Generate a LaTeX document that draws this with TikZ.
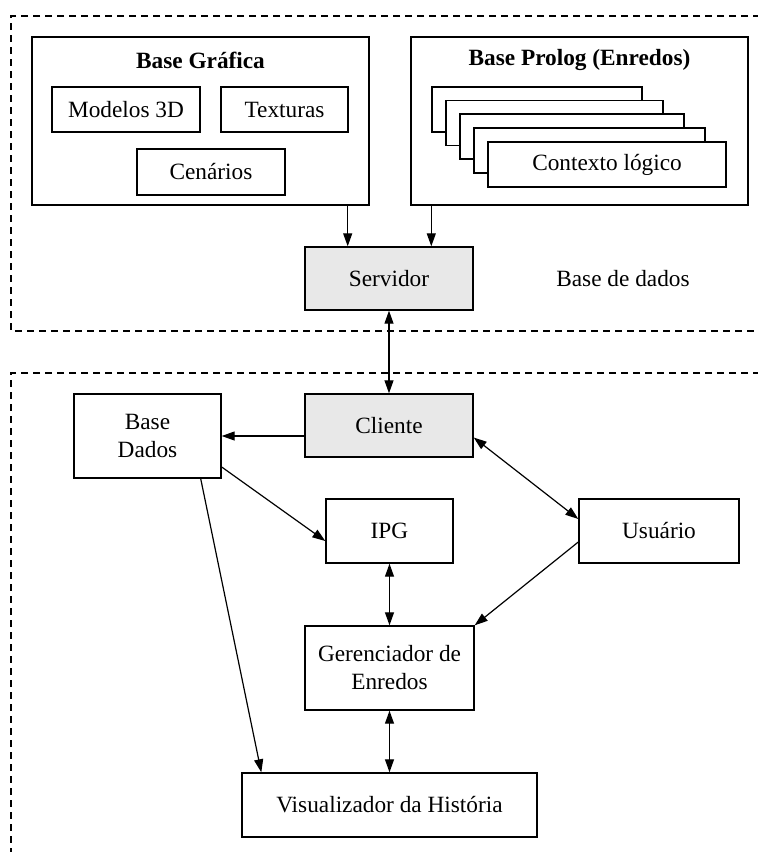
\documentclass[tikz,border=0pt]{standalone}
\usepackage{fontspec}
\setmainfont{Liberation Serif}
\usetikzlibrary{arrows.meta}

\definecolor{boxgray}{HTML}{E8E8E8}

\tikzset{
  box/.style={draw, line width=1.4pt, fill=white, inner sep=0pt, align=center,
    font=\fontsize{23.3}{28}\selectfont},
  graybox/.style={box, fill=boxgray},
  sheet/.style={draw, line width=1.4pt, fill=white},
  region/.style={draw, line width=1.3pt, dash pattern=on 7pt off 5pt},
  tip/.style={},
  conn/.style={line width=1.2pt, -{Triangle[length=13pt,width=9pt]}},
  both/.style={line width=1.2pt, {Triangle[length=13pt,width=9pt]}-{Triangle[length=13pt,width=9pt]}},
  title/.style={font=\fontsize{23.3}{28}\selectfont\bfseries, inner sep=0pt},
  plain/.style={font=\fontsize{23.3}{28}\selectfont, inner sep=0pt}
}

\begin{document}
\begin{tikzpicture}[x=1pt, y=-1pt]
  \useasboundingbox (0,0) rectangle (758,852);

  % dashed regions: database side and client side
  \draw[region] (760,16) -- (11,16) -- (11,331) -- (760,331);
  \draw[region] (760,373) -- (11,373) -- (11,854);

  % graphics base
  \node[box, minimum width=337pt, minimum height=168pt] (bgraf) at (200.5,121) {};
  \node[title] (bgraft) at (200.5,60) {Base Gráfica};
  \node[box, minimum width=148pt, minimum height=45pt] (mod) at (126,109.5) {Modelos 3D};
  \node[box, minimum width=127pt, minimum height=45pt] (tex) at (284.5,109.5) {Texturas};
  \node[box, minimum width=148pt, minimum height=46pt] (cen) at (211,172) {Cenários};

  % prolog base with stacked logical contexts
  \node[box, minimum width=337pt, minimum height=168pt] (bprol) at (579.5,121) {};
  \node[title] (bprolt) at (579.5,60) {Base Prolog (Enredos)};
  \draw[sheet] (432,87) rectangle (642,132);
  \draw[sheet] (446,100.5) rectangle (663,145.5);
  \draw[sheet] (460,114) rectangle (684,159);
  \draw[sheet] (474,128) rectangle (705,173);
  \node[box, minimum width=238pt, minimum height=45pt] (ctx) at (607,164.5) {Contexto lógico};

  % server
  \node[graybox, minimum width=168pt, minimum height=63pt] (serv) at (389,278.5) {Servidor};
  \node[plain] (bdtxt) at (623,278.5) {Base de dados};

  % client side
  \node[graybox, minimum width=168pt, minimum height=63pt] (cli) at (389,425.5) {Cliente};
  \node[box, minimum width=147pt, minimum height=84pt] (bdad) at (147.5,436) {Base\\Dados};
  \node[box, minimum width=127pt, minimum height=64pt] (ipg) at (389.5,531) {IPG};
  \node[box, minimum width=160pt, minimum height=64pt] (usu) at (659,531) {Usuário};
  \node[box, minimum width=169pt, minimum height=84pt] (ger) at (389.5,668) {Gerenciador de\\Enredos};
  \node[box, minimum width=295pt, minimum height=64pt] (vis) at (389.5,805) {Visualizador da História};

  % connectors
  \draw[conn] ([xshift=-22pt]bgraf.south east) -- ([xshift=-22pt]bgraf.south east |- serv.north);
  \draw[conn] ([xshift=21pt]bprol.south west) -- ([xshift=21pt]bprol.south west |- serv.north);
  \draw[both] (serv.south) -- (cli.north);
  \draw[conn] (cli.west |- bdad.east) -- (bdad.east);
  \draw[conn] ([yshift=-31pt]bdad.east) -- ([yshift=-10pt]ipg.west);
  \draw[conn] ([xshift=-21pt]bdad.south east) -- ([xshift=20pt]vis.north west);
  \draw[both] ([yshift=-12pt]cli.east) -- ([yshift=12pt]usu.west);
  \draw[conn] ([yshift=-11pt]usu.west) -- (ger.north east);
  \draw[both] (ipg.south) -- (ger.north);
  \draw[both] (ger.south) -- (vis.north);
\end{tikzpicture}
\end{document}
